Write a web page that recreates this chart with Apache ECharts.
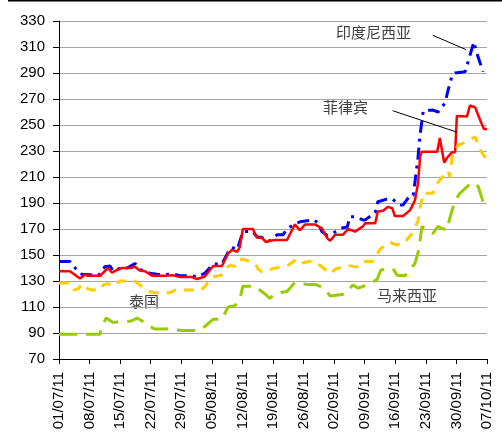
<!DOCTYPE html>
<html>
<head>
<meta charset="utf-8">
<script src="https://cdn.jsdelivr.net/npm/echarts@6/dist/echarts.min.js"></script>
<style>
  html, body { margin: 0; padding: 0; background: #fff; }
  #chart { width: 502px; height: 438px; }
</style>
</head>
<body>
<div id="chart"></div>
<script>
// x = days since 01/07/11, y = price
const tickLabels = ['01/07/11', '08/07/11', '15/07/11', '22/07/11', '29/07/11', '05/08/11', '12/08/11',
  '19/08/11', '26/08/11', '02/09/11', '09/09/11', '16/09/11', '23/09/11', '30/09/11', '07/10/11']

const indonesia = [[0,145],[2.5,145],[3.7,140],[5.3,135],[6.4,135],[9,134],[10.5,141],[11.7,141.5],[12.4,137.5],
  [13.3,139],[14.4,140],[15.6,140],[17.4,143.5],[18.5,139],[20.8,136],[22.7,135],[24.3,135],[25.9,135.5],[27.7,134],
  [30.5,134],[31.6,133],[33.4,136],[35.3,143],[37.3,143],[38.7,152],[39.6,156],[40.8,154],[42.1,168],[44.4,168],
  [45.3,164],[46.5,163.5],[47.4,161],[48.3,161],[49.9,165.5],[51.3,165.5],[52.2,170],[54,174],[55.2,175.5],[58.2,177],
  [59.3,175],[60.2,168],[61.4,165],[62.5,166.5],[65,171],[66,171.5],[66.6,179.5],[67.8,179.5],[69.6,177],[70.1,177],
  [72.4,182.5],[73,191],[75.1,193],[76.3,193],[78.1,188.5],[78.8,188.5],[80.4,196],[81.1,196],[81.5,206],[82.2,225],
  [82.7,243],[83.4,261],[85.6,261.5],[86.8,260],[88.4,267],[89.1,277],[90,288],[90.7,290],[93,291],[93.7,299],
  [95,314],[95.7,305],[97.1,291]]

const philippines = [[0,137.5],[2.5,137.5],[4.8,132],[6,135],[6.6,134],[9.4,134],[11.2,140],[12.1,136.5],[13.3,138.5],
  [14.4,140],[16.3,140],[17.4,141],[18.5,138],[19.7,137.5],[21.3,134],[24.3,134],[25.9,134.5],[27.7,133],[30.5,133],
  [31.6,131.5],[33.4,133.5],[35.3,141.5],[37.3,141.5],[38.7,151],[39.6,154],[40.8,152.5],[41.4,156],[42.1,170],
  [44.4,170],[45.3,163.5],[46.5,163],[47.4,160],[48.3,161],[49.5,161.5],[52.2,161.5],[54,173.5],[55.2,169],[56.3,173.5],
  [58.6,173.5],[60.2,170.5],[61.4,163],[62.1,161],[63.2,165.5],[65,165.5],[66.2,170],[67.8,168],[69.6,172],[70.1,174.5],
  [72.4,174.5],[73,183.5],[74.2,184],[75.3,187],[76.3,186],[76.9,180],[78.8,180],[80.4,184.5],[81.5,192],[82.2,205],
  [82.7,226],[83.1,229.5],[86.6,229.5],[87.2,240],[88.2,221],[88.9,225],[90,229],[90.7,229],[91.1,257],[93.4,256.5],
  [94.1,265],[95.3,263.5],[96.4,254],[97.3,247],[98,247]]

const thailand = [[0,128.5],[2.5,128.5],[3.4,123],[4.4,124],[5.3,128],[6.6,124],[7.6,123],[9.4,123],[10.1,127],
  [11.2,128],[12.4,126],[14,130],[17.4,130],[18.5,127],[20.4,122],[22,121],[25.4,121],[26.6,123],[31.1,123],[32.3,125],
  [33,124],[35,133],[37.3,134.5],[38.2,140],[39.2,142],[40.8,141],[41.9,147],[42.8,146],[44.9,144],[45.6,139],
  [46.5,137],[49,139.5],[52.4,142],[54.3,146.5],[55.2,143.5],[57.9,145.5],[58.6,145],[60.9,139],[62.1,135.5],[63.2,139],
  [66,142],[68.9,140.5],[70.1,145],[71.9,145],[73.5,154.5],[75.8,160],[76.9,158],[78.8,158],[80.8,166.5],[82.2,176],
  [82.7,187],[83.4,197.5],[85.6,197.5],[86.8,206],[89.1,215],[89.5,210],[90,225],[90.7,231],[91.4,234.5],[93.2,237],
  [95.3,241],[96.4,231],[97.5,225.5],[98,225.5]]

const malaysia = [[0,89],[4.4,89],[4.8,88],[6.9,89],[9.4,89],[9.8,95],[10.8,101.5],[12.4,98],[14,99],[16.3,99],
  [17.9,101.5],[19.7,98],[20.8,95],[22,93],[24.3,93],[25.4,93.5],[26.6,92.5],[28.2,92],[31.6,91.8],[33.4,95],
  [34.6,98.5],[35.3,100.5],[37.3,100.5],[38.7,110],[40.3,111],[41.4,116],[42.1,126],[44.9,126],[45.6,124],[47.2,120],
  [48.3,116.7],[49.5,120.5],[52.2,122],[54,128.7],[56.8,127.4],[58.6,127.4],[60.5,125],[62.1,118.5],[65.5,120],
  [67.3,127],[68.5,124.5],[70.5,127],[72.8,131],[73.7,138.5],[76.5,139.5],[77.4,134.5],[79.2,134],[81.5,143.5],
  [82.4,154],[83.1,172],[85.6,166.5],[86.8,172],[87.7,170.5],[88.8,169],[89.5,178.5],[90.7,192],[91.8,197.5],
  [94.2,205],[95.3,205.5],[96,202.5],[97.1,191],[97.8,188]]

// leader lines from the labels to the curves
const indoPointer = [[85.6, 319], [93.2, 308]]
const philPointer = [[76.4, 261], [91.1, 244.5]]

const chart = echarts.init(document.getElementById('chart'))

const labelFont = { fontFamily: 'Noto Sans CJK SC', fontSize: 15, fill: '#404040' }

function pointer(pts) {
  return {
    silent: true,
    symbol: 'none',
    label: { show: false },
    lineStyle: { color: '#000', width: 1, type: 'solid' },
    data: [[{ coord: pts[0] }, { coord: pts[1] }]]
  }
}

chart.setOption({
  animation: false,
  backgroundColor: '#fff',
  grid: { left: 59, right: 15, top: 21, bottom: 79, containLabel: false, outerBoundsMode: 'none' },
  xAxis: {
    type: 'value',
    min: 0,
    max: 98,
    interval: 7,
    axisLine: { show: true, lineStyle: { color: '#000', width: 1 } },
    axisTick: { show: true, length: 5, lineStyle: { color: '#000' } },
    splitLine: { show: false },
    axisLabel: {
      rotate: 90,
      margin: 13,
      color: '#000',
      fontFamily: 'Liberation Sans',
      fontSize: 15,
      formatter: v => tickLabels[Math.round(v / 7)] || ''
    }
  },
  yAxis: {
    type: 'value',
    min: 70,
    max: 330,
    interval: 20,
    axisLine: { show: true, lineStyle: { color: '#000', width: 1 } },
    axisTick: { show: true, length: 6, lineStyle: { color: '#000' } },
    splitLine: { lineStyle: { color: '#a6a6a6', width: 1 } },
    axisLabel: { margin: 14, color: '#000', fontFamily: 'Liberation Sans', fontSize: 15 }
  },
  series: [
    {
      name: '印度尼西亚',
      type: 'line',
      data: indonesia,
      symbol: 'none',
      lineStyle: { color: '#0000ff', width: 3, type: [12, 6, 3, 6] },
      markLine: pointer(indoPointer)
    },
    {
      name: '菲律宾',
      type: 'line',
      data: philippines,
      symbol: 'none',
      lineStyle: { color: '#ff0000', width: 2.5 },
      markLine: pointer(philPointer)
    },
    {
      name: '泰国',
      type: 'line',
      data: thailand,
      symbol: 'none',
      lineStyle: { color: '#ffcc00', width: 3, type: [10, 8] }
    },
    {
      name: '马来西亚',
      type: 'line',
      data: malaysia,
      symbol: 'none',
      lineStyle: { color: '#99cc00', width: 3, type: [18, 9] }
    }
  ],
  graphic: [
    { type: 'line', shape: { x1: 8, y1: 0.5, x2: 502, y2: 0.5 }, style: { stroke: '#000', lineWidth: 2 } },
    { type: 'text', left: 336, top: 25, style: Object.assign({ text: '印度尼西亚' }, labelFont) },
    { type: 'text', left: 323, top: 100, style: Object.assign({ text: '菲律宾' }, labelFont) },
    { type: 'text', left: 129, top: 294, style: Object.assign({ text: '泰国' }, labelFont) },
    { type: 'text', left: 377, top: 288, style: Object.assign({ text: '马来西亚' }, labelFont) }
  ]
})
</script>
</body>
</html>
